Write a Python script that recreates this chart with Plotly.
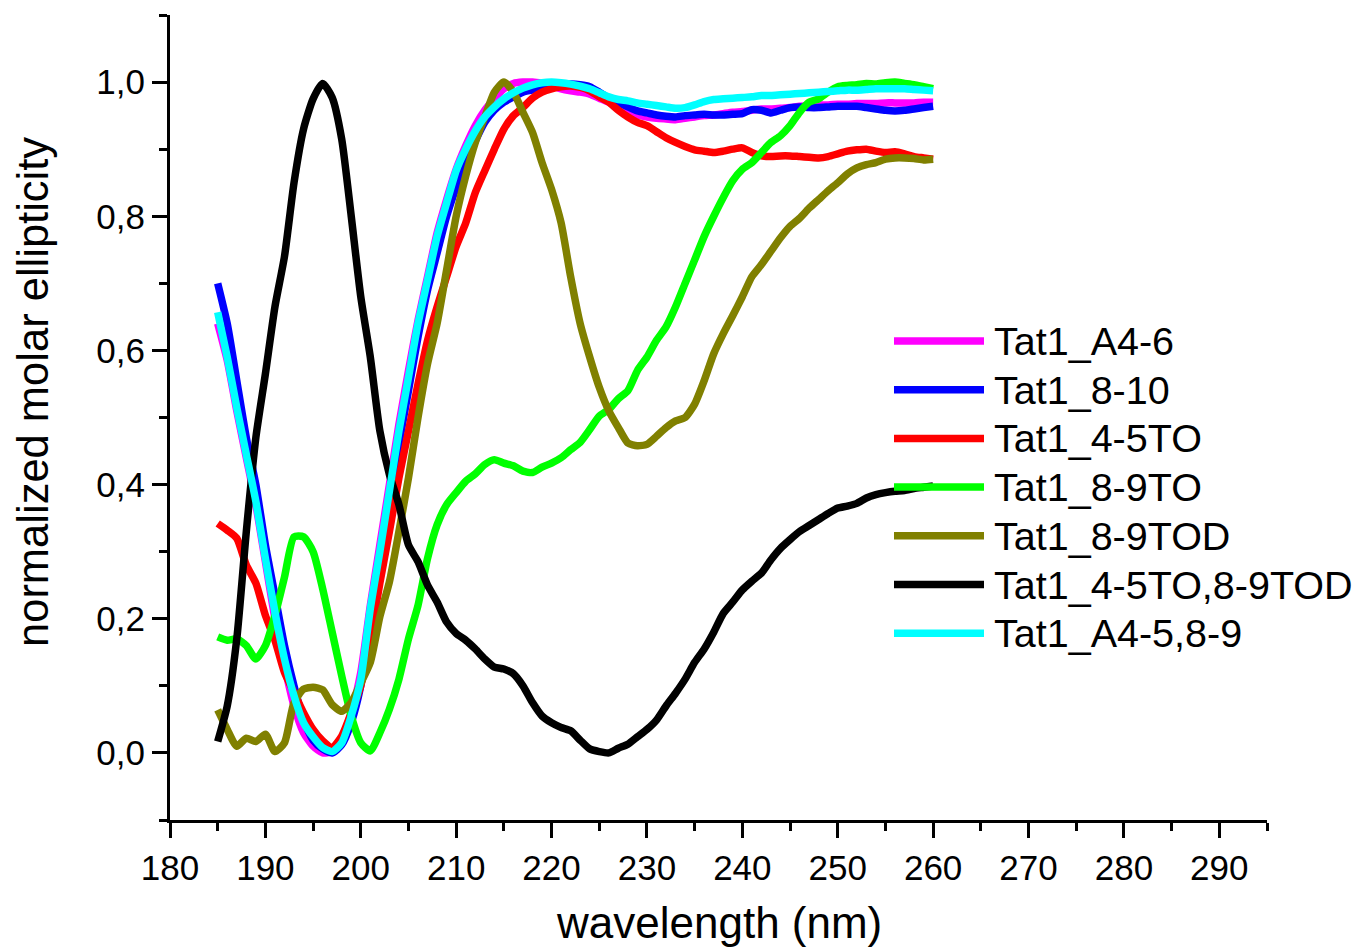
import plotly.graph_objects as go

wavelength = list(range(185, 261))

tat1_a4_6 = [0.64, 0.585, 0.51, 0.44, 0.37, 0.285, 0.20, 0.13, 0.07, 0.03,
             0.01, 0.0, 0.002, 0.02, 0.06, 0.12, 0.22, 0.31, 0.40, 0.49,
             0.57, 0.645, 0.71, 0.775, 0.825, 0.87, 0.905, 0.935, 0.958, 0.975,
             0.99, 0.998, 1.0, 1.0, 0.998, 0.995, 0.99, 0.987, 0.985, 0.982,
             0.976, 0.97, 0.963, 0.956, 0.951, 0.948, 0.946, 0.945, 0.944, 0.946,
             0.948, 0.95, 0.951, 0.953, 0.955, 0.956, 0.958, 0.96, 0.96, 0.961,
             0.962, 0.964, 0.965, 0.966, 0.966, 0.967, 0.967, 0.968, 0.968, 0.968,
             0.969, 0.969, 0.969, 0.969, 0.97, 0.97]

tat1_8_10 = [0.70, 0.64, 0.555, 0.47, 0.40, 0.31, 0.235, 0.16, 0.10, 0.05,
             0.019, 0.006, 0.0, 0.012, 0.045, 0.10, 0.19, 0.28, 0.37, 0.46,
             0.54, 0.62, 0.69, 0.745, 0.80, 0.843, 0.88, 0.912, 0.94, 0.958,
             0.970, 0.978, 0.985, 0.988, 0.99, 0.992, 0.995, 0.997, 0.996, 0.993,
             0.985, 0.976, 0.97, 0.963, 0.957, 0.954, 0.951, 0.949, 0.948, 0.95,
             0.951, 0.952, 0.951, 0.951, 0.952, 0.953, 0.959, 0.958, 0.954, 0.958,
             0.962, 0.963, 0.962, 0.962, 0.963, 0.964, 0.964, 0.964, 0.962, 0.96,
             0.958, 0.957, 0.958, 0.96, 0.962, 0.964]

tat1_4_5to = [0.342, 0.332, 0.32, 0.28, 0.253, 0.205, 0.168, 0.12, 0.09, 0.06,
              0.035, 0.018, 0.008, 0.025, 0.06, 0.10, 0.17, 0.253, 0.33, 0.41,
              0.48, 0.55, 0.615, 0.665, 0.71, 0.755, 0.79, 0.835, 0.868, 0.90,
              0.93, 0.95, 0.962, 0.976, 0.985, 0.99, 0.993, 0.994, 0.992, 0.987,
              0.978, 0.97, 0.958, 0.948, 0.94, 0.935, 0.926, 0.917, 0.91, 0.904,
              0.899, 0.897, 0.895, 0.897, 0.9, 0.902, 0.895, 0.89, 0.889, 0.89,
              0.89, 0.889, 0.888, 0.887, 0.889, 0.893, 0.897, 0.899, 0.90, 0.897,
              0.895, 0.896, 0.893, 0.889, 0.887, 0.885]

tat1_8_9to = [0.173, 0.168, 0.17, 0.16, 0.14, 0.16, 0.205, 0.262, 0.322, 0.322,
              0.30, 0.245, 0.18, 0.115, 0.055, 0.015, 0.003, 0.03, 0.065, 0.11,
              0.17, 0.22, 0.29, 0.34, 0.37, 0.388, 0.405, 0.416, 0.43, 0.437,
              0.432, 0.428, 0.42, 0.418, 0.426, 0.432, 0.44, 0.452, 0.463, 0.482,
              0.502, 0.512, 0.528, 0.54, 0.57, 0.59, 0.615, 0.635, 0.665, 0.70,
              0.735, 0.77, 0.80, 0.828, 0.853, 0.87, 0.88, 0.895, 0.91, 0.92,
              0.935, 0.955, 0.97, 0.975, 0.985, 0.993, 0.995, 0.996, 0.998, 0.997,
              0.999, 1.0, 0.998, 0.996, 0.993, 0.99]

tat1_8_9tod = [0.064, 0.035, 0.01, 0.022, 0.017, 0.028, 0.002, 0.015, 0.075, 0.095,
               0.098, 0.094, 0.072, 0.062, 0.075, 0.104, 0.135, 0.203, 0.255, 0.33,
               0.41, 0.50, 0.58, 0.64, 0.72, 0.80, 0.86, 0.91, 0.948, 0.985,
               1.0, 0.985, 0.955, 0.925, 0.88, 0.84, 0.79, 0.71, 0.64, 0.59,
               0.545, 0.51, 0.485, 0.462, 0.458, 0.46, 0.472, 0.485, 0.495, 0.50,
               0.52, 0.555, 0.595, 0.625, 0.652, 0.68, 0.71, 0.728, 0.748, 0.768,
               0.785, 0.797, 0.812, 0.825, 0.838, 0.85, 0.863, 0.872, 0.877, 0.88,
               0.885, 0.887, 0.887, 0.886, 0.884, 0.885]

tat1_4_5to_8_9tod = [0.017, 0.07, 0.17, 0.33, 0.47, 0.565, 0.665, 0.74, 0.85, 0.93,
                     0.975, 0.998, 0.977, 0.915, 0.80, 0.68, 0.59, 0.48, 0.415, 0.37,
                     0.31, 0.285, 0.25, 0.225, 0.195, 0.178, 0.168, 0.155, 0.14, 0.128,
                     0.125, 0.118, 0.10, 0.075, 0.055, 0.045, 0.038, 0.033, 0.019, 0.006,
                     0.002, 0.0, 0.007, 0.013, 0.024, 0.035, 0.049, 0.07, 0.089, 0.11,
                     0.135, 0.155, 0.18, 0.208, 0.225, 0.243, 0.256, 0.268, 0.288, 0.305,
                     0.318, 0.33, 0.339, 0.348, 0.357, 0.365, 0.368, 0.372, 0.38, 0.385,
                     0.388, 0.39, 0.391, 0.394, 0.396, 0.398]

tat1_a4_5_8_9 = [0.657, 0.59, 0.515, 0.445, 0.375, 0.29, 0.21, 0.14, 0.085, 0.045,
                 0.024, 0.008, 0.002, 0.015, 0.055, 0.11, 0.215, 0.30, 0.39, 0.48,
                 0.56, 0.64, 0.705, 0.77, 0.82, 0.868, 0.90, 0.927, 0.948, 0.963,
                 0.975, 0.984, 0.991, 0.996, 0.999, 1.0, 0.999, 0.997, 0.994, 0.99,
                 0.984, 0.978, 0.974, 0.972, 0.969, 0.967, 0.965, 0.963, 0.961, 0.962,
                 0.966, 0.971, 0.974, 0.975, 0.976, 0.977, 0.978, 0.98, 0.98, 0.981,
                 0.982, 0.983, 0.984, 0.985, 0.986, 0.987, 0.988, 0.988, 0.989, 0.99,
                 0.99, 0.99, 0.99, 0.989, 0.988, 0.987]

series_names = ["Tat1_A4-6", "Tat1_8-10", "Tat1_4-5TO", "Tat1_8-9TO",
                "Tat1_8-9TOD", "Tat1_4-5TO,8-9TOD", "Tat1_A4-5,8-9"]
series_values = [tat1_a4_6, tat1_8_10, tat1_4_5to, tat1_8_9to,
                 tat1_8_9tod, tat1_4_5to_8_9tod, tat1_a4_5_8_9]
series_colors = ["#ff00ff", "#0000ff", "#ff0000", "#00ff00",
                 "#808000", "#000000", "#00ffff"]

x_ticks = list(range(180, 300, 10))
y_ticks = [0.0, 0.2, 0.4, 0.6, 0.8, 1.0]

W, H = 1365, 949
ML, MR, MT, MB = 170, 98, 15, 129
PW, PH = W - ML - MR, H - MT - MB

def px_to_paper_x(px):
    return (px - ML) / PW

def px_to_paper_y(py):
    return (H - MB - py) / PH

FONT = "Liberation Sans, Arial"

fig = go.Figure()
for name, vals, col in zip(series_names, series_values, series_colors):
    fig.add_trace(go.Scatter(x=wavelength, y=vals, mode="lines", name=name,
                             line=dict(color=col, width=7.5, shape="spline", smoothing=0.6),
                             showlegend=False))

# custom legend (long sample lines like the original)
shapes = []
annotations = []
leg_top, leg_step = 341, 48.7
for i, (name, col) in enumerate(zip(series_names, series_colors)):
    py = leg_top + i * leg_step
    shapes.append(dict(type="line", xref="paper", yref="paper",
                       x0=px_to_paper_x(894), x1=px_to_paper_x(984),
                       y0=px_to_paper_y(py), y1=px_to_paper_y(py),
                       line=dict(color=col, width=7.5), layer="above"))
    annotations.append(dict(text=name, xref="paper", yref="paper",
                            x=px_to_paper_x(992), y=px_to_paper_y(py),
                            xanchor="left", yanchor="middle", showarrow=False,
                            font=dict(family=FONT, size=39.5, color="black")))

annotations.append(dict(text="normalized molar ellipticity", xref="paper", yref="paper",
                        x=px_to_paper_x(33), y=px_to_paper_y(392), textangle=-90,
                        xanchor="center", yanchor="middle", showarrow=False,
                        font=dict(family=FONT, size=43.5, color="black")))
annotations.append(dict(text="wavelength (nm)", xref="paper", yref="paper",
                        x=0.5, y=px_to_paper_y(922),
                        xanchor="center", yanchor="middle", showarrow=False,
                        font=dict(family=FONT, size=44, color="black")))

fig.update_layout(
    width=W, height=H,
    margin=dict(l=ML, r=MR, t=MT, b=MB, pad=0),
    paper_bgcolor="white", plot_bgcolor="white",
    separators=", ",
    shapes=shapes, annotations=annotations,
    showlegend=False,
)
fig.update_xaxes(range=[180, 295], tickvals=x_ticks, ticktext=[str(v) for v in x_ticks],
                 showgrid=False, zeroline=False, showline=True, linecolor="black", linewidth=3,
                 ticks="outside", ticklen=15, tickwidth=3, tickcolor="black",
                 tickfont=dict(family=FONT, size=35, color="black"),
                 minor=dict(dtick=5, tick0=180, ticks="outside", ticklen=8, tickwidth=3, tickcolor="black", showgrid=False))
fig.update_yaxes(range=[-0.1, 1.1], tickvals=y_ticks, tickformat=".1f",
                 showgrid=False, zeroline=False, showline=True, linecolor="black", linewidth=3,
                 ticks="outside", ticklen=15, tickwidth=3, tickcolor="black",
                 tickfont=dict(family=FONT, size=35, color="black"),
                 minor=dict(dtick=0.1, tick0=0, ticks="outside", ticklen=8, tickwidth=3, tickcolor="black", showgrid=False))

fig.write_html("out.html")
